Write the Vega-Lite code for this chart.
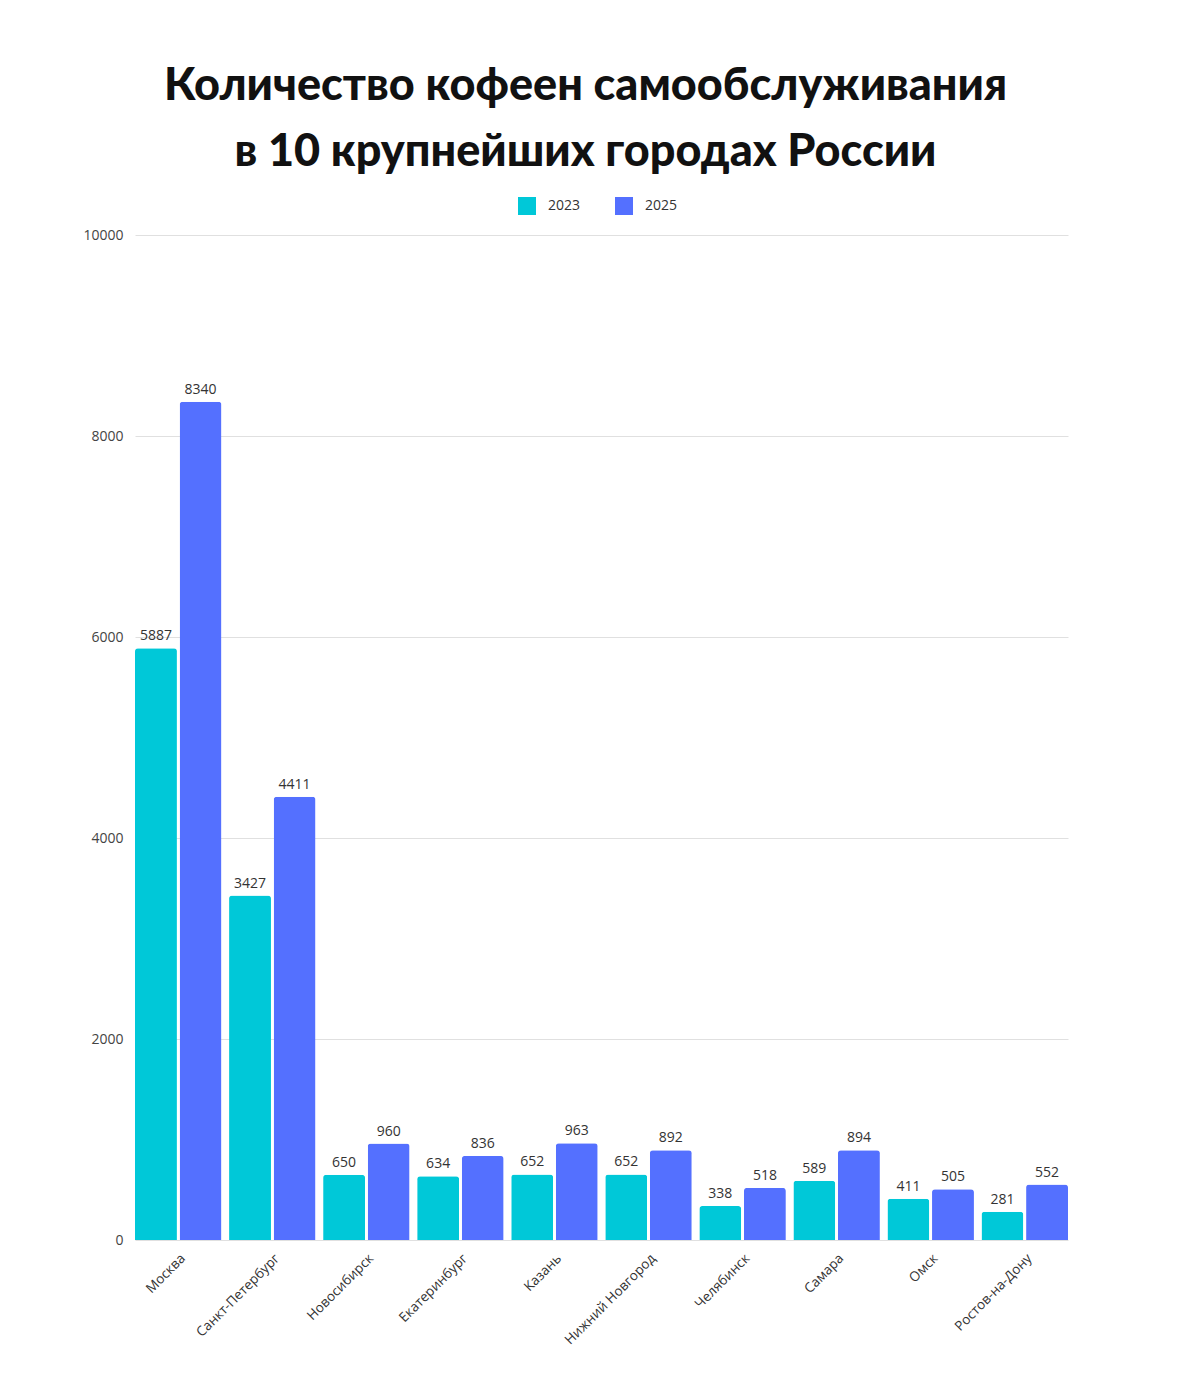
{
  "$schema": "https://vega.github.io/schema/vega-lite/v6.json",
  "autosize": {"type": "none"},
  "width": 933,
  "height": 1005,
  "padding": {"left": 135, "top": 235, "right": 112, "bottom": 144},
  "background": "white",
  "title": {
    "text": ["Количество кофеен самообслуживания", "в 10 крупнейших городах России"],
    "font": "Lato",
    "fontWeight": 900,
    "fontSize": 45,
    "lineHeight": 66,
    "color": "#111111",
    "anchor": "middle",
    "dx": -16,
    "offset": 22
  },
  "data": {
    "values": [
      {"city": "Москва", "year": "2023", "count": 5887},
      {"city": "Москва", "year": "2025", "count": 8340},
      {"city": "Санкт-Петербург", "year": "2023", "count": 3427},
      {"city": "Санкт-Петербург", "year": "2025", "count": 4411},
      {"city": "Новосибирск", "year": "2023", "count": 650},
      {"city": "Новосибирск", "year": "2025", "count": 960},
      {"city": "Екатеринбург", "year": "2023", "count": 634},
      {"city": "Екатеринбург", "year": "2025", "count": 836},
      {"city": "Казань", "year": "2023", "count": 652},
      {"city": "Казань", "year": "2025", "count": 963},
      {"city": "Нижний Новгород", "year": "2023", "count": 652},
      {"city": "Нижний Новгород", "year": "2025", "count": 892},
      {"city": "Челябинск", "year": "2023", "count": 338},
      {"city": "Челябинск", "year": "2025", "count": 518},
      {"city": "Самара", "year": "2023", "count": 589},
      {"city": "Самара", "year": "2025", "count": 894},
      {"city": "Омск", "year": "2023", "count": 411},
      {"city": "Омск", "year": "2025", "count": 505},
      {"city": "Ростов-на-Дону", "year": "2023", "count": 281},
      {"city": "Ростов-на-Дону", "year": "2025", "count": 552}
    ]
  },
  "encoding": {
    "x": {
      "field": "city",
      "type": "nominal",
      "sort": null,
      "scale": {"paddingInner": 0.08, "paddingOuter": 0.0},
      "axis": {
        "title": null,
        "labelAngle": -45,
        "labelFont": "Open Sans",
        "labelFontSize": 13.5,
        "labelColor": "#333333",
        "labelPadding": 11,
        "ticks": false,
        "domain": false
      }
    },
    "xOffset": {"field": "year", "type": "nominal", "scale": {"paddingInner": 0.06}},
    "y": {
      "field": "count",
      "type": "quantitative",
      "scale": {"domain": [0, 10000]},
      "axis": {
        "title": null,
        "values": [0, 2000, 4000, 6000, 8000, 10000],
        "format": "d",
        "labelFont": "Open Sans",
        "labelFontSize": 14,
        "labelColor": "#444444",
        "labelPadding": 12,
        "ticks": false,
        "domain": false,
        "gridColor": "#e0e0e0",
        "gridWidth": 1
      }
    },
    "color": {
      "field": "year",
      "type": "nominal",
      "scale": {"domain": ["2023", "2025"], "range": ["#00C8D8", "#5470FF"]},
      "legend": {
        "title": null,
        "orient": "none",
        "direction": "horizontal",
        "legendX": 383,
        "legendY": -38,
        "symbolType": "square",
        "symbolSize": 324,
        "symbolStrokeWidth": 0,
        "labelFont": "Open Sans",
        "labelFontSize": 14,
        "labelColor": "#333333",
        "labelOffset": 12,
        "columnPadding": 34
      }
    }
  },
  "layer": [
    {
      "mark": {"type": "bar", "cornerRadiusTopLeft": 3, "cornerRadiusTopRight": 3}
    },
    {
      "mark": {"type": "text", "baseline": "bottom", "dy": -5, "font": "Open Sans", "fontSize": 14, "color": "#333333"},
      "encoding": {
        "text": {"field": "count", "type": "quantitative", "format": "d"},
        "color": {"value": "#333333"}
      }
    }
  ],
  "config": {"view": {"stroke": null}}
}
